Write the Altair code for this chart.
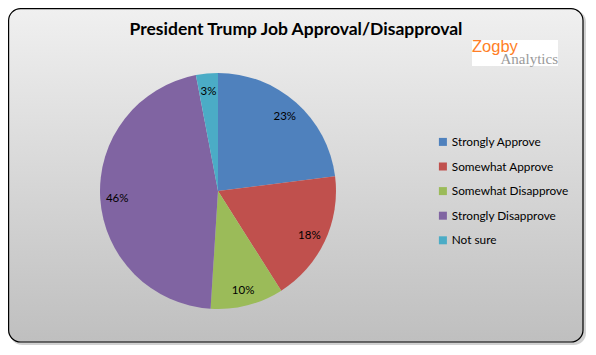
import altair as alt
import pandas as pd

categories = ["Strongly Approve", "Somewhat Approve", "Somewhat Disapprove",
              "Strongly Disapprove", "Not sure"]
values = [23, 18, 10, 46, 3]
labels = ["23%", "18%", "10%", "46%", "3%"]
colors = ["#4F81BD", "#C0504D", "#9BBB59", "#8064A2", "#4BACC6"]
title_text = "President Trump Job Approval/Disapproval"
logo_top = "Zogby"
logo_bottom = "Analytics"

df = pd.DataFrame({"category": categories, "value": values,
                   "label": labels, "order": list(range(len(values)))})
one = alt.Data(values=[{"a": 1}])

W, H = 580, 339
CX, CY, R = 210, 183, 118

shadow = alt.Chart(one).mark_rect(cornerRadius=12, color="#000000", opacity=0.18).encode(
    x=alt.value(2), x2=alt.value(578), y=alt.value(2), y2=alt.value(337))

grad = alt.LinearGradient(
    gradient="linear", x1=0, y1=0, x2=0, y2=1,
    stops=[alt.GradientStop(color="#f0f0f0", offset=0),
           alt.GradientStop(color="#bfbfbf", offset=1)])
bg = alt.Chart(one).mark_rect(cornerRadius=12, color=grad, stroke="#000000",
                              strokeWidth=1.2).encode(
    x=alt.value(0.6), x2=alt.value(575), y=alt.value(0.6), y2=alt.value(334))

title = alt.Chart(one).mark_text(text=title_text, font="Lato", fontSize=17.5,
                                 fontWeight="bold", color="#000000",
                                 align="center", baseline="alphabetic").encode(
    x=alt.value(288), y=alt.value(27))

logo_box = alt.Chart(one).mark_rect(color="#ffffff").encode(
    x=alt.value(464), x2=alt.value(550), y=alt.value(32), y2=alt.value(58))
logo1 = alt.Chart(one).mark_text(text=logo_top, font="Liberation Sans", fontSize=16.5,
                                 color="#FF7F27", align="left", baseline="alphabetic").encode(
    x=alt.value(464), y=alt.value(44))
logo2 = alt.Chart(one).mark_text(text=logo_bottom, font="Liberation Serif", fontSize=15,
                                 color="#9a9a9a", align="right", baseline="alphabetic").encode(
    x=alt.value(550), y=alt.value(56))

pie = alt.Chart(df).mark_arc(outerRadius=R).encode(
    theta=alt.Theta("value:Q", stack=True),
    order=alt.Order("order:Q"),
    color=alt.Color("category:N",
                    scale=alt.Scale(domain=categories, range=colors),
                    legend=alt.Legend(title=None, orient="none", legendX=429, legendY=128,
                                      symbolType="square", symbolSize=64,
                                      symbolStrokeWidth=0, labelFontSize=11.8,
                                      labelFont="Lato", labelColor="#000000",
                                      labelOffset=3, rowPadding=11.6, padding=0)),
    x=alt.value(CX), y=alt.value(CY))

text = alt.Chart(df).mark_text(radius=101, font="Lato", fontSize=11.5, color="#000000",
                               dy=2).encode(
    theta=alt.Theta("value:Q", stack=True),
    order=alt.Order("order:Q"),
    text="label:N",
    x=alt.value(CX), y=alt.value(CY))

chart = alt.layer(shadow, bg, title, logo_box, logo1, logo2, pie, text).properties(
    width=W, height=H, padding=0,
    autosize=alt.AutoSizeParams(type="none"),
    background="#ffffff"
).configure_view(stroke=None)

chart.save("out.html", embed_options={"renderer": "svg", "actions": False})
